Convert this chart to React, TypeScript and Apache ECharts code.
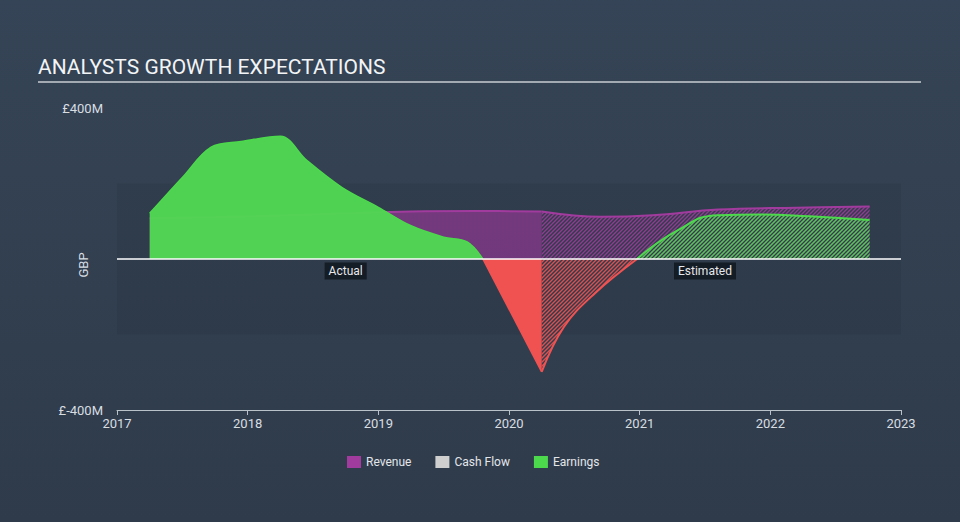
import React, { useEffect, useRef } from "react";
import * as echarts from "echarts";

const yearTicks = [2017, 2018, 2019, 2020, 2021, 2022, 2023];

const revenueActual: [number, number][] = [
  [2017.25, 108], [2017.75, 111], [2018.25, 115], [2018.75, 121],
  [2019.25, 126], [2019.75, 127], [2020.25, 126],
];
const revenueEstimated: [number, number][] = [
  [2020.25, 126], [2020.7, 112], [2021.1, 116], [2021.6, 131],
  [2022.2, 136], [2022.76, 139],
];
const earningsActualPos: [number, number][] = [
  [2017.25, 121], [2017.5, 216], [2017.72, 296], [2017.95, 311],
  [2018.25, 325], [2018.45, 262], [2018.72, 190], [2019.0, 137],
  [2019.25, 88], [2019.5, 58], [2019.68, 45], [2019.8, 0],
];
const earningsActualNeg: [number, number][] = [
  [2019.8, 0], [2020.25, -299],
];
const earningsEstimatedNeg: [number, number][] = [
  [2020.25, -299], [2020.42, -180], [2020.66, -90], [2020.98, 0],
];
const earningsEstimatedPos: [number, number][] = [
  [2020.98, 0], [2021.28, 74], [2021.6, 116], [2021.92, 118],
  [2022.3, 113], [2022.76, 103],
];

const periodLabels = [
  { x: 2018.75, text: "Actual" },
  { x: 2021.5, text: "Estimated" },
];

function hatch(color: string) {
  const c = document.createElement("canvas");
  c.width = 4;
  c.height = 4;
  const ctx = c.getContext("2d")!;
  ctx.strokeStyle = color;
  ctx.lineWidth = 1.4;
  ctx.beginPath();
  ctx.moveTo(-1, 5);
  ctx.lineTo(5, -1);
  ctx.moveTo(-1, 1);
  ctx.lineTo(1, -1);
  ctx.moveTo(3, 5);
  ctx.lineTo(5, 3);
  ctx.stroke();
  return { image: c, repeat: "repeat" } as any;
}

export default function App() {
  const ref = useRef<HTMLDivElement>(null);
  useEffect(() => {
    document.body.style.margin = "0";
    const chart = echarts.init(ref.current!, undefined, { renderer: "svg" });
    const purple = "#a23b9e";
    const green = "#4cd94c";
    const red = "#f05252";
    const font = "Roboto, sans-serif";
    chart.setOption({
      animation: false,
      backgroundColor: {
        type: "linear", x: 0, y: 0, x2: 0, y2: 1,
        colorStops: [
          { offset: 0, color: "#354456" },
          { offset: 1, color: "#2f3b4a" },
        ],
      },
      textStyle: { fontFamily: font },
      grid: { left: 117, right: 59, top: 108, bottom: 112 },
      graphic: [
        {
          type: "text", left: 38, top: 56,
          style: { text: "ANALYSTS GROWTH EXPECTATIONS", fill: "#f2f4f6", font: `21px ${font}` },
        },
        {
          type: "rect", shape: { x: 38, y: 81, width: 883, height: 2 },
          style: { fill: "#a3aab2" },
        },
        {
          type: "text", x: 83, y: 265, rotation: Math.PI / 2,
          style: {
            text: "GBP", fill: "#d8dde2", font: `13px ${font}`,
            align: "center", verticalAlign: "middle",
          },
        },
      ],
      legend: {
        top: 451, left: 342, itemWidth: 14, itemHeight: 12, itemGap: 24,
        textStyle: { color: "#e3e6ea", fontSize: 12, fontFamily: font },
        data: [
          { name: "Revenue", icon: "rect", itemStyle: { color: purple } },
          { name: "Cash Flow", icon: "rect", itemStyle: { color: "#cfcfcf" } },
          { name: "Earnings", icon: "rect", itemStyle: { color: green } },
        ],
      },
      xAxis: {
        type: "value", min: 2017, max: 2023, interval: 1,
        axisLine: { onZero: false, lineStyle: { color: "#b9c1c9", width: 1 } },
        axisTick: { length: 5, lineStyle: { color: "#b9c1c9" } },
        axisLabel: {
          color: "#d8dde2", fontSize: 13, margin: 7,
          formatter: (v: number) => (yearTicks.includes(v) ? String(v) : ""),
        },
        splitLine: { show: false },
      },
      yAxis: {
        type: "value", min: -400, max: 400, interval: 400,
        axisLine: { show: false }, axisTick: { show: false },
        splitLine: { show: false },
        axisLabel: {
          color: "#d8dde2", fontSize: 13, margin: 14,
          formatter: (v: number) => (v === 0 ? "" : `£${v}M`),
        },
      },
      series: [
        {
          type: "line", name: "band", data: [[2017, 0]], symbol: "none", z: 1,
          lineStyle: { opacity: 0 }, silent: true,
          markArea: {
            silent: true,
            itemStyle: { color: "rgba(0,0,0,0.06)" },
            data: [[{ yAxis: -200 }, { yAxis: 200 }]],
          },
          markLine: {
            silent: true, symbol: "none", label: { show: false },
            lineStyle: { color: "#ffffff", width: 1.5, type: "solid" },
            data: [{ yAxis: 0 }],
          },
        },
        {
          type: "line", name: "Revenue", data: revenueActual, smooth: 0.4,
          symbol: "none", z: 2, color: purple,
          lineStyle: { color: purple, width: 2 },
          areaStyle: { color: "rgba(160,55,156,0.6)", opacity: 1 },
          markPoint: {
            symbol: "rect", symbolSize: 1, itemStyle: { color: "rgba(0,0,0,0)" },
            label: {
              show: true, position: "inside", offset: [0, 12],
              color: "#e6e8ea", fontSize: 12, backgroundColor: "#141c25",
              padding: [3, 4, 2, 4],
              formatter: (p: any) => p.name,
            },
            data: periodLabels.map((l) => ({ name: l.text, coord: [l.x, 0] })),
          },
        },
        {
          type: "line", name: "Revenue", data: revenueEstimated, smooth: 0.4,
          symbol: "none", z: 2, color: purple,
          lineStyle: { color: purple, width: 2 },
          areaStyle: { color: hatch("rgba(162,59,158,0.85)"), opacity: 1 },
        },
        { type: "line", name: "Cash Flow", data: [], color: "#cfcfcf", symbol: "none" },
        {
          type: "line", name: "Earnings", data: earningsActualPos, smooth: 0.35,
          symbol: "none", z: 3, color: green,
          lineStyle: { color: green, width: 1.5 },
          areaStyle: { color: "rgba(80,216,82,0.96)", opacity: 1 },
        },
        {
          type: "line", name: "Earnings", data: earningsActualNeg, smooth: 0.2,
          symbol: "none", z: 3, color: red,
          lineStyle: { color: red, width: 1.5 },
          areaStyle: { color: red, opacity: 1 },
        },
        {
          type: "line", name: "Earnings", data: earningsEstimatedNeg, smooth: 0.4,
          symbol: "none", z: 3, color: red,
          lineStyle: { color: red, width: 2 },
          areaStyle: { color: hatch("rgba(240,82,82,0.9)"), opacity: 1 },
        },
        {
          type: "line", name: "Earnings", data: earningsEstimatedPos, smooth: 0.5,
          symbol: "none", z: 3, color: green,
          lineStyle: { color: green, width: 2 },
          areaStyle: { color: hatch("rgba(76,217,76,0.9)"), opacity: 1 },
        },
      ],
    });
    return () => chart.dispose();
  }, []);
  return <div ref={ref} style={{ width: 960, height: 522 }} />;
}
